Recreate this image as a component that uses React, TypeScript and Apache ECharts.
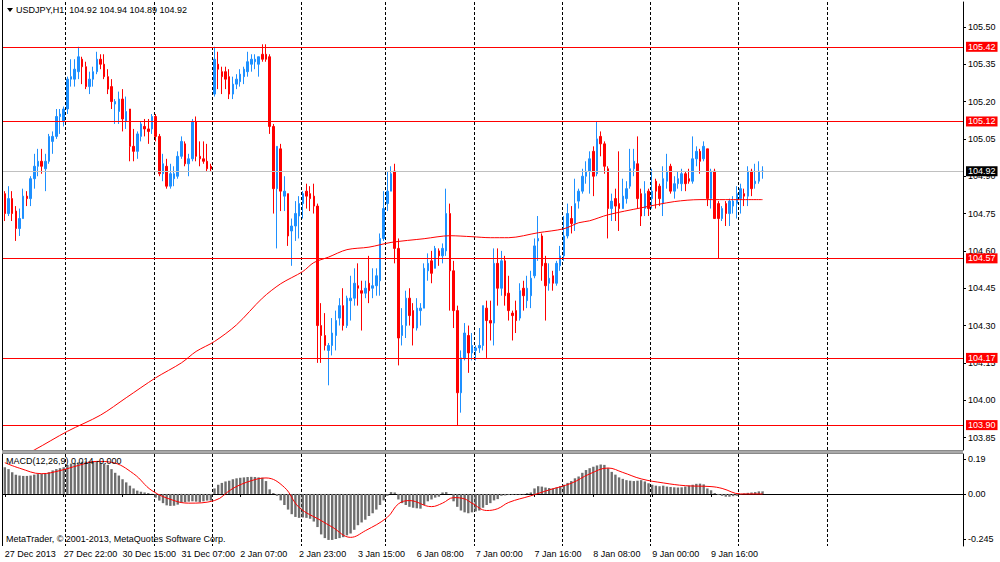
import React, { useEffect, useRef } from "react";
import * as echarts from "echarts";

const FONT = "Liberation Sans";

// Trading sessions shown on the H1 chart: [day, first hour, last hour]
const sessionDays: [string, number, number][] = [
  ["27 Dec", 6, 22], ["30 Dec", 0, 23], ["31 Dec", 0, 15], ["2 Jan", 0, 23], ["3 Jan", 0, 22],
  ["6 Jan", 0, 23], ["7 Jan", 0, 23], ["8 Jan", 0, 23], ["9 Jan", 0, 23], ["10 Jan", 0, 6],
];
// empty slots to the right of the last bar
const futureDays: [string, number, number][] = [["10 Jan", 7, 23], ["11 Jan", 0, 23]];
const blankSlots = 13;

const openP = [
  104.83,104.75,104.81,104.76,104.69,104.73,104.82,104.81,104.89,104.94,
  104.96,104.93,104.96,105.04,105.06,105.14,105.12,105.17,105.29,105.29,
  105.32,105.37,105.34,105.26,105.29,105.32,105.37,105.35,105.30,105.26,
  105.19,105.16,105.21,105.12,105.17,105.02,105.00,105.06,105.10,105.09,
  105.09,105.14,105.06,104.91,104.94,104.86,104.89,104.90,104.98,105.03,
  104.95,104.97,105.12,104.98,104.97,104.96,104.94,105.23,105.35,105.32,
  105.32,105.30,105.23,105.27,105.28,105.30,105.32,105.35,105.36,105.35,
  105.39,105.39,105.38,105.10,104.85,105.01,104.82,104.83,104.68,104.70,
  104.74,104.79,104.84,104.83,104.82,104.78,104.30,104.26,104.20,104.22,
  104.26,104.33,104.38,104.30,104.40,104.41,104.46,104.44,104.43,104.47,
  104.45,104.46,104.48,104.65,104.79,104.84,104.92,104.61,104.26,104.30,
  104.41,104.36,104.29,104.36,104.37,104.52,104.56,104.53,104.60,104.58,
  104.60,104.75,104.52,104.36,104.03,104.17,104.26,104.19,104.20,104.21,
  104.22,104.37,104.32,104.31,104.55,104.45,104.56,104.43,104.35,104.36,
  104.33,104.45,104.40,104.42,104.50,104.64,104.66,104.55,104.47,104.50,
  104.47,104.54,104.58,104.66,104.73,104.71,104.80,104.84,104.90,104.92,
  105.00,104.91,105.06,105.03,104.93,104.77,104.81,104.79,104.77,104.81,
  104.86,104.93,104.95,104.83,104.77,104.84,104.81,104.88,104.86,104.79,
  104.88,104.94,104.84,104.87,104.87,104.91,104.89,104.88,104.97,105.00,
  104.97,105.01,104.81,104.92,104.79,104.73,104.79,104.75,104.78,104.79,
  104.81,104.83,104.82,104.92,104.87,104.88,104.92,
];
const highP = [
  104.84,104.86,104.84,104.78,104.77,104.85,104.84,104.90,104.99,105.01,
  105.01,104.99,105.07,105.08,105.17,105.17,105.18,105.30,105.37,105.37,
  105.42,105.38,105.36,105.32,105.34,105.40,105.39,105.39,105.33,105.29,
  105.21,105.24,105.25,105.22,105.17,105.09,105.08,105.12,105.13,105.13,
  105.15,105.15,105.07,104.99,104.97,104.95,104.94,105.00,105.06,105.04,
  104.99,105.13,105.14,105.04,105.04,105.03,104.95,105.42,105.40,105.34,
  105.34,105.33,105.30,105.31,105.33,105.34,105.40,105.39,105.39,105.38,
  105.43,105.43,105.39,105.11,105.02,105.03,104.90,104.83,104.73,104.80,
  104.82,104.84,104.87,104.86,104.87,104.79,104.39,104.35,104.23,104.33,
  104.36,104.41,104.45,104.42,104.50,104.53,104.55,104.48,104.48,104.58,
  104.53,104.53,104.67,104.84,104.92,104.94,104.95,104.65,104.37,104.44,
  104.45,104.39,104.41,104.39,104.55,104.59,104.60,104.62,104.61,104.63,
  104.85,104.79,104.56,104.38,104.20,104.31,104.30,104.27,104.22,104.29,
  104.38,104.40,104.40,104.61,104.61,104.60,104.58,104.50,104.36,104.40,
  104.47,104.48,104.50,104.52,104.65,104.74,104.67,104.58,104.55,104.52,
  104.56,104.62,104.74,104.79,104.78,104.89,104.85,104.93,104.96,105.00,
  105.02,105.12,105.08,105.04,104.94,104.83,104.85,105.00,104.89,104.88,
  105.01,105.01,105.06,104.85,104.88,104.85,104.93,104.89,104.87,104.94,
  104.99,104.95,104.90,104.92,104.93,104.92,104.93,105.06,105.02,105.01,
  105.04,105.01,104.93,104.93,104.80,104.78,104.80,104.81,104.82,104.86,
  104.87,104.85,104.94,104.93,104.95,104.96,104.94,
];
const lowP = [
  104.72,104.74,104.72,104.64,104.66,104.73,104.78,104.78,104.85,104.90,
  104.91,104.84,104.95,104.99,105.05,105.07,105.10,105.15,105.26,105.26,
  105.29,105.27,105.25,105.23,105.26,105.31,105.33,105.29,105.23,105.17,
  105.11,105.11,105.08,105.09,104.96,104.96,104.97,105.04,105.06,105.03,
  105.07,105.04,104.90,104.88,104.85,104.85,104.86,104.89,104.97,104.94,
  104.90,104.96,104.96,104.94,104.95,104.92,104.92,105.22,105.25,105.23,
  105.25,105.21,105.21,105.25,105.26,105.27,105.30,105.32,105.33,105.30,
  105.36,105.36,105.07,104.75,104.61,104.76,104.76,104.62,104.54,104.64,
  104.65,104.73,104.77,104.76,104.75,104.15,104.15,104.20,104.06,104.18,
  104.20,104.30,104.28,104.29,104.32,104.38,104.38,104.28,104.41,104.39,
  104.41,104.42,104.42,104.64,104.76,104.84,104.55,104.14,104.22,104.25,
  104.30,104.22,104.28,104.30,104.37,104.48,104.47,104.53,104.54,104.55,
  104.58,104.36,104.29,103.90,103.95,104.16,104.11,104.16,104.16,104.19,
  104.20,104.17,104.24,104.22,104.38,104.42,104.38,104.32,104.24,104.27,
  104.32,104.36,104.37,104.37,104.49,104.56,104.48,104.32,104.44,104.44,
  104.46,104.52,104.56,104.65,104.67,104.68,104.77,104.83,104.87,104.83,
  104.82,104.90,104.98,104.91,104.65,104.72,104.72,104.68,104.77,104.79,
  104.85,104.90,104.77,104.70,104.74,104.74,104.77,104.77,104.78,104.74,
  104.85,104.83,104.81,104.85,104.84,104.84,104.87,104.87,104.94,104.91,
  104.96,104.78,104.77,104.73,104.57,104.72,104.70,104.70,104.75,104.73,
  104.75,104.78,104.78,104.82,104.85,104.87,104.89,
];
const closeP = [
  104.75,104.81,104.75,104.69,104.73,104.82,104.81,104.89,104.94,104.96,
  104.94,104.96,105.06,105.06,105.14,105.15,105.17,105.29,105.30,105.33,
  105.38,105.34,105.26,105.29,105.32,105.37,105.35,105.30,105.25,105.20,
  105.20,105.21,105.13,105.16,105.02,105.00,105.07,105.11,105.09,105.08,
  105.14,105.06,104.91,104.95,104.86,104.91,104.91,104.98,105.04,104.95,
  104.97,105.12,104.98,104.97,104.96,104.93,104.93,105.37,105.33,105.30,
  105.29,105.23,105.27,105.29,105.31,105.33,105.36,105.37,105.37,105.38,
  105.37,105.37,105.10,104.85,105.02,104.84,104.84,104.66,104.70,104.75,
  104.79,104.83,104.82,104.81,104.78,104.30,104.26,104.22,104.22,104.27,
  104.32,104.38,104.30,104.41,104.41,104.47,104.45,104.43,104.45,104.44,
  104.46,104.50,104.65,104.77,104.84,104.91,104.61,104.25,104.30,104.41,
  104.34,104.29,104.37,104.37,104.53,104.55,104.51,104.61,104.58,104.61,
  104.75,104.52,104.36,104.03,104.17,104.27,104.19,104.22,104.21,104.22,
  104.38,104.32,104.31,104.55,104.45,104.56,104.42,104.36,104.34,104.32,
  104.44,104.42,104.45,104.49,104.62,104.65,104.54,104.46,104.49,104.47,
  104.55,104.58,104.66,104.75,104.71,104.79,104.84,104.90,104.92,104.97,
  104.90,105.05,105.03,104.94,104.77,104.80,104.78,104.77,104.82,104.85,
  104.93,104.96,104.81,104.74,104.83,104.77,104.84,104.84,104.81,104.89,
  104.92,104.84,104.87,104.89,104.91,104.87,104.88,104.97,105.00,104.96,
  105.02,104.81,104.92,104.73,104.73,104.77,104.75,104.80,104.80,104.83,
  104.85,104.82,104.92,104.85,104.88,104.92,104.92,
];

// Moving average: [bar index, price]
const maPoints: [number, number][] = [
  [0, 103.74], [8, 103.80], [17, 103.875], [26, 103.94], [33, 104.01], [41, 104.09],
  [48, 104.15], [52, 104.196], [57, 104.236], [63, 104.303], [70, 104.41], [75, 104.468],
  [81, 104.517], [84, 104.553], [88, 104.575], [93, 104.605], [99, 104.615], [105, 104.634],
  [114, 104.649], [121, 104.661], [127, 104.657], [132, 104.653], [137, 104.653], [145, 104.673],
  [152, 104.689], [156, 104.713], [159, 104.721], [164, 104.745], [173, 104.773], [182, 104.798],
  [189, 104.806], [196, 104.806], [206, 104.806],
];

// MACD main (histogram)
const macdMain = [
  0.145,0.135,0.118,0.105,0.100,0.098,0.098,0.100,0.105,0.108,
  0.110,0.112,0.118,0.128,0.135,0.140,0.145,0.158,0.165,0.168,
  0.172,0.175,0.176,0.177,0.178,0.176,0.170,0.165,0.158,0.135,
  0.115,0.100,0.080,0.063,0.045,0.030,0.018,0.012,0.008,0.005,
  0.001,-0.020,-0.036,-0.050,-0.062,-0.065,-0.064,-0.058,-0.048,-0.045,
  -0.042,-0.040,-0.042,-0.045,-0.040,-0.036,-0.036,0.030,0.050,0.060,
  0.068,0.072,0.080,0.085,0.088,0.090,0.092,0.093,0.092,0.090,
  0.088,0.070,0.025,0.005,-0.010,-0.035,-0.060,-0.085,-0.110,-0.125,
  -0.130,-0.128,-0.130,-0.135,-0.150,-0.180,-0.220,-0.240,-0.250,-0.250,
  -0.245,-0.240,-0.235,-0.225,-0.215,-0.195,-0.170,-0.155,-0.140,-0.120,
  -0.105,-0.085,-0.060,-0.035,-0.010,0.010,0.008,-0.030,-0.050,-0.060,
  -0.070,-0.075,-0.078,-0.080,-0.060,-0.040,-0.030,-0.020,-0.015,0.008,
  0.010,0.000,-0.040,-0.070,-0.090,-0.100,-0.105,-0.100,-0.095,-0.090,
  -0.075,-0.060,-0.050,-0.035,-0.028,-0.010,-0.008,-0.006,-0.005,-0.004,
  -0.004,-0.003,0.004,0.008,0.030,0.042,0.040,0.035,0.032,0.030,
  0.035,0.042,0.050,0.060,0.070,0.085,0.095,0.115,0.130,0.140,
  0.148,0.155,0.160,0.158,0.140,0.120,0.105,0.090,0.082,0.075,
  0.072,0.070,0.072,0.075,0.068,0.058,0.050,0.045,0.042,0.045,
  0.040,0.038,0.036,0.035,0.036,0.040,0.045,0.050,0.055,0.056,
  0.052,0.030,0.020,0.005,-0.005,-0.010,-0.015,-0.015,-0.012,-0.010,
  -0.002,0.003,0.006,0.008,0.010,0.014,0.014,
];

// MACD signal line: [bar index, value]
const macdSignal: [number, number][] = [
  [0, 0.17], [4, 0.14], [10, 0.11], [15, 0.127], [20, 0.155], [25, 0.177], [29, 0.172],
  [35, 0.11], [40, 0.018], [46, -0.036], [50, -0.05], [57, -0.036], [62, 0.03], [67, 0.072],
  [71, 0.087], [76, 0.036], [80, -0.073], [86, -0.145], [89, -0.18], [94, -0.236], [98, -0.2],
  [104, -0.127], [107, -0.054], [110, -0.036], [116, -0.069], [119, -0.05], [122, -0.02],
  [125, -0.027], [127, -0.05], [131, -0.09], [134, -0.08], [137, -0.046], [143, -0.01],
  [148, 0.022], [154, 0.058], [159, 0.109], [164, 0.141], [168, 0.117], [173, 0.082],
  [179, 0.06], [185, 0.045], [192, 0.04], [195, 0.03], [200, 0], [206, 0],
];

const levelLines = [105.42, 105.12, 104.57, 104.17, 103.9];
const bidPrice = 104.92;
const priceTicks = [105.5, 105.35, 105.2, 105.05, 104.9, 104.75, 104.6, 104.45, 104.3, 104.15, 104.0, 103.85];
const macdTicks = [0.19, 0, -0.245];
const macdTickText = ["0.19", "0.00", "-0.245"];
const xTickIdx = [0, 16, 32, 48, 64, 80, 96, 112, 128, 144, 160, 176, 192];
const xTickText = [
  "27 Dec 2013", "27 Dec 22:00", "30 Dec 15:00", "31 Dec 07:00", "2 Jan 07:00", "2 Jan 23:00",
  "3 Jan 15:00", "6 Jan 08:00", "7 Jan 00:00", "7 Jan 16:00", "8 Jan 08:00", "9 Jan 00:00", "9 Jan 16:00",
];
const titleText = "USDJPY,H1  104.92 104.94 104.89 104.92";
const macdTitle = "MACD(12,26,9) 0.014 -0.000";
const copyright = "MetaTrader, \u00A9 2001-2013, MetaQuotes Software Corp.";

const hh = (h: number) => (h < 10 ? "0" : "") + h + ":00";

export default function App() {
  const ref = useRef<HTMLDivElement>(null);
  useEffect(() => {
    if (!ref.current) return;
    const chart = echarts.init(ref.current, undefined, { renderer: "svg" });

    const categories: string[] = [];
    for (const [d, h0, h1] of [...sessionDays, ...futureDays]) {
      for (let h = h0; h <= h1; h++) categories.push(`${d} ${hh(h)}`);
    }
    for (let k = 0; k < blankSlots; k++) categories.push("");
    const daySep = new Set<number>();
    categories.forEach((c, i) => { if (c.endsWith(" 00:00")) daySep.add(i); });
    const tickMap = new Map<number, string>();
    xTickIdx.forEach((ix, k) => tickMap.set(ix, xTickText[k]));

    const candles = openP.map((o, i) => [o, closeP[i], lowP[i], highP[i]]);

    const sepLine = {
      show: true,
      interval: (i: number) => daySep.has(i),
      lineStyle: { color: "#000", type: [3, 2], width: 1 },
    };
    const labelBox = (bg: string) => ({
      show: true,
      position: "end",
      distance: 3,
      formatter: (p: any) => Number(p.value).toFixed(2),
      color: "#fff",
      backgroundColor: bg,
      padding: [1, 2, 0, 2],
      fontSize: 9,
      lineHeight: 9,
      fontFamily: FONT,
    });

    chart.setOption({
      animation: false,
      backgroundColor: "#fff",
      textStyle: { fontFamily: FONT },
      grid: [
        { left: 3, right: 37, top: 2, height: 448, outerBoundsMode: "none" },
        { left: 3, right: 37, top: 454, height: 92, outerBoundsMode: "none" },
      ],
      xAxis: [
        {
          type: "category", gridIndex: 0, data: categories, boundaryGap: true,
          axisLine: { show: false }, axisTick: { show: false }, axisLabel: { show: false },
          splitLine: sepLine,
        },
        {
          type: "category", gridIndex: 1, data: categories, boundaryGap: true,
          axisLine: { show: true, lineStyle: { color: "#000", width: 1 } },
          axisTick: { show: true, alignWithLabel: true, interval: (i: number) => tickMap.has(i), length: 3, lineStyle: { color: "#000" } },
          axisLabel: {
            interval: (i: number) => tickMap.has(i),
            formatter: (_v: string, i: number) => tickMap.get(i) ?? "",
            align: "left", color: "#000", fontSize: 9, fontFamily: FONT, margin: 3,
          },
          splitLine: sepLine,
        },
      ],
      yAxis: [
        {
          type: "value", gridIndex: 0, position: "right", min: 103.8, max: 105.6,
          splitLine: { show: false },
          axisLine: { show: true, lineStyle: { color: "#000", width: 1 } },
          axisTick: { show: true, customValues: priceTicks, length: 3, lineStyle: { color: "#000" } },
          axisLabel: { customValues: priceTicks, formatter: (v: number) => v.toFixed(2), color: "#000", fontSize: 9, fontFamily: FONT, margin: 5 },
        },
        {
          type: "value", gridIndex: 1, position: "right", min: -0.283, max: 0.2172,
          splitLine: { show: false },
          axisLine: { show: true, lineStyle: { color: "#000", width: 1 } },
          axisTick: { show: true, customValues: macdTicks, length: 3, lineStyle: { color: "#000" } },
          axisLabel: {
            customValues: macdTicks,
            formatter: (v: number) => {
              const k = macdTicks.findIndex((t) => Math.abs(t - v) < 1e-9);
              return k >= 0 ? macdTickText[k] : "";
            },
            color: "#000", fontSize: 9, fontFamily: FONT, margin: 5,
          },
        },
      ],
      series: [
        {
          type: "candlestick", xAxisIndex: 0, yAxisIndex: 0, data: candles, barWidth: 2,
          clip: false, silent: true,
          itemStyle: { color: "#1E90FF", color0: "#FF0000", borderColor: "#1E90FF", borderColor0: "#FF0000", borderWidth: 1 },
          markLine: {
            silent: true, symbol: ["none", "none"], animation: false,
            data: [
              ...levelLines.map((v) => ({ yAxis: v, lineStyle: { color: "#ff0000", width: 1, type: "solid" }, label: labelBox("#ff0000") })),
              { yAxis: bidPrice, lineStyle: { color: "#c0c0c0", width: 1, type: "solid" }, label: labelBox("#000") },
            ],
          },
        },
        {
          type: "line", xAxisIndex: 0, yAxisIndex: 0, data: maPoints, symbol: "none", smooth: 0.3,
          clip: true, silent: true, lineStyle: { color: "#ff0000", width: 1 },
        },
        {
          type: "bar", xAxisIndex: 1, yAxisIndex: 1, data: macdMain, barWidth: 2.4, silent: true,
          itemStyle: { color: "#6e6e6e" },
        },
        {
          type: "line", xAxisIndex: 1, yAxisIndex: 1, data: macdSignal, symbol: "none", smooth: 0.4,
          silent: true, lineStyle: { color: "#ff0000", width: 1 },
        },
      ],
      graphic: [
        { type: "line", z: 100, shape: { x1: 2.5, y1: 0, x2: 2.5, y2: 546 }, style: { stroke: "#000", lineWidth: 1 } },
        { type: "rect", z: 100, shape: { x: 2, y: 450, width: 961, height: 4 }, style: { fill: "#8a8a8a" } },
        { type: "line", z: 101, shape: { x1: 2, y1: 452, x2: 963, y2: 452 }, style: { stroke: "#c8c8c8", lineWidth: 1 } },
        { type: "polygon", z: 100, shape: { points: [[7, 8], [13, 8], [10, 12]] }, style: { fill: "#000" } },
        { type: "text", z: 100, x: 16, y: 10, style: { text: titleText, fill: "#000", fontSize: 9, fontFamily: FONT, verticalAlign: "middle" } },
        { type: "text", z: 100, x: 6, y: 461, style: { text: macdTitle, fill: "#000", fontSize: 9, fontFamily: FONT, verticalAlign: "middle" } },
        { type: "text", z: 100, x: 6, y: 539, style: { text: copyright, fill: "#000", fontSize: 9, fontFamily: FONT, verticalAlign: "middle" } },
      ],
    });
    return () => chart.dispose();
  }, []);
  return (
    <div
      ref={ref}
      style={{ position: "fixed", left: 0, top: 0, width: "1000px", height: "562px", background: "#fff" }}
    />
  );
}
